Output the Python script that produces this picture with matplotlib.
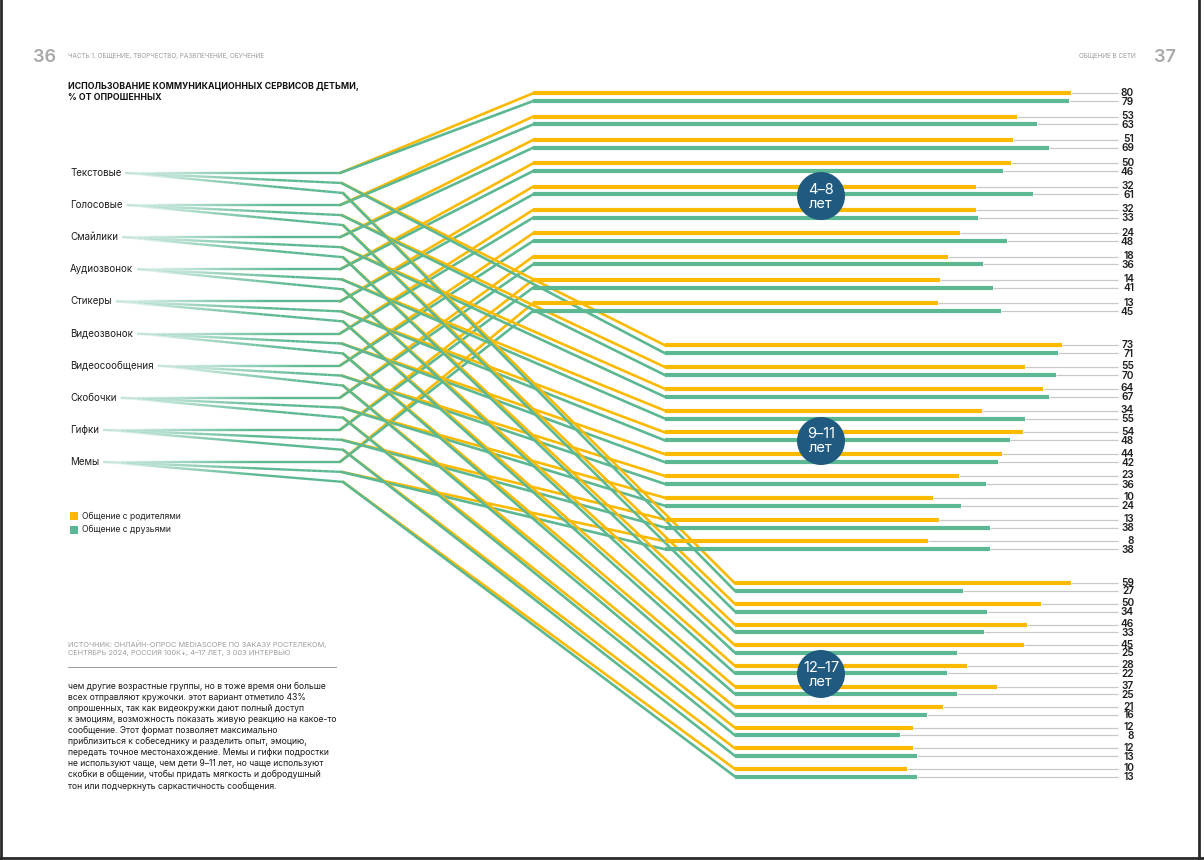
import matplotlib
matplotlib.use("Agg")
import matplotlib.pyplot as plt
from matplotlib.collections import LineCollection
from matplotlib.patches import Circle, Rectangle
import numpy as np

plt.rcParams['font.family'] = ['Inter', 'DejaVu Sans']

# ---------------- data ----------------
categories = ["Текстовые", "Голосовые", "Смайлики", "Аудиозвонок", "Стикеры",
              "Видеозвонок", "Видеосообщения", "Скобочки", "Гифки", "Мемы"]
age_groups = ["4–8\nлет", "9–11\nлет", "12–17\nлет"]
parents_4_8 = [80, 53, 51, 50, 32, 32, 24, 18, 14, 13]
friends_4_8 = [79, 63, 69, 46, 61, 33, 48, 36, 41, 45]
parents_9_11 = [73, 55, 64, 34, 54, 44, 23, 10, 13, 8]
friends_9_11 = [71, 70, 67, 55, 48, 42, 36, 24, 38, 38]
parents_12_17 = [59, 50, 46, 45, 28, 37, 21, 12, 12, 10]
friends_12_17 = [27, 34, 33, 25, 22, 25, 16, 8, 13, 13]
legend_labels = ["Общение с родителями", "Общение с друзьями"]

title = "ИСПОЛЬЗОВАНИЕ КОММУНИКАЦИОННЫХ СЕРВИСОВ ДЕТЬМИ,\n% ОТ ОПРОШЕННЫХ"
header_left = "ЧАСТЬ 1. ОБЩЕНИЕ, ТВОРЧЕСТВО, РАЗВЛЕЧЕНИЕ, ОБУЧЕНИЕ"
header_right = "ОБЩЕНИЕ В СЕТИ"
source = ("ИСТОЧНИК: ОНЛАЙН-ОПРОС MEDIASCOPE ПО ЗАКАЗУ РОСТЕЛЕКОМ,\n"
          "СЕНТЯБРЬ 2024, РОССИЯ 100К+, 4–17 ЛЕТ, 3 003 ИНТЕРВЬЮ")
body_lines = [
    "чем другие возрастные группы, но в тоже время они больше",
    "всех отправляют кружочки. этот вариант отметило 43%",
    "опрошенных, так как видеокружки дают полный доступ",
    "к эмоциям, возможность показать живую реакцию на какое-то",
    "сообщение. Этот формат позволяет максимально",
    "приблизиться к собеседнику и разделить опыт, эмоцию,",
    "передать точное местонахождение. Мемы и гифки подростки",
    "не используют чаще, чем дети 9–11 лет, но чаще используют",
    "скобки в общении, чтобы придать мягкость и добродушный",
    "тон или подчеркнуть саркастичность сообщения.",
]

# ---------------- style / layout ----------------
YEL = "#FBBA00"
GRN = "#5BB892"
GRAY_LINE = "#C9C9C9"
CIRC = "#215A80"
W, H = 1204, 860

groups = [
    dict(par=parents_4_8, fr=friends_4_8, top=93.3, pitch=23.33, gap=7.8,
         knee=533, zero=912, scale=1.985, cy=196),
    dict(par=parents_9_11, fr=friends_9_11, top=345.3, pitch=21.78, gap=8.0,
         knee=665, zero=912, scale=2.05, cy=441),
    dict(par=parents_12_17, fr=friends_12_17, top=583.4, pitch=20.63, gap=7.5,
         knee=735, zero=873, scale=3.35, cy=674),
]
label_x = 70
label_y0, label_step = 173, 32.1
left_knee_x = 340
line_end_x = 1118
num_x = 1134

fig = plt.figure(figsize=(W / 100, H / 100), dpi=100)
fig.patch.set_facecolor("white")
ax = fig.add_axes([0, 0, 1, 1])
ax.set_xlim(0, W)
ax.set_ylim(H, 0)
ax.axis("off")

# ---------------- texts ----------------
ax.text(33, 57, "36", fontsize=13, fontweight="semibold", color="#A8A8A8", va="center")
ax.text(68, 56, header_left, fontsize=4.6, color="#9A9A9A", va="center")
ax.text(1136, 56, header_right, fontsize=4.6, color="#9A9A9A", va="center", ha="right")
ax.text(1154, 57, "37", fontsize=13, fontweight="semibold", color="#A8A8A8", va="center")
ax.text(68, 92, title, fontsize=6.3, fontweight="bold", color="#111111",
        va="center", linespacing=1.35)

label_texts = []
for i, c in enumerate(categories):
    t = ax.text(label_x, label_y0 + i * label_step, c, fontsize=7, color="#1E1E1E",
                va="center")
    label_texts.append(t)

# legend
for k, (lab, col) in enumerate(zip(legend_labels, [YEL, GRN])):
    y = 516 + k * 13.5
    ax.add_patch(Rectangle((70, y - 4), 8, 8, color=col, lw=0))
    ax.text(82, y, lab, fontsize=6.2, color="#222222", va="center")

ax.text(68, 648, source, fontsize=5.3, color="#9C9C9C", va="center", linespacing=1.35)
ax.plot([68, 336], [667, 667], color="#9A9A9A", lw=0.7)
for k, ln in enumerate(body_lines):
    ax.text(68, 686 + k * 11.1, ln, fontsize=6.2, color="#1A1A1A", va="center")

# text end positions for the fading lead lines
fig.canvas.draw()
inv = ax.transData.inverted()
label_ends = [inv.transform((t.get_window_extent().x1, 0))[0] for t in label_texts]

# ---------------- lead lines (fading) ----------------
def fade_line(x0, y0, x1, y1, color, lw, n=40):
    xs = np.linspace(x0, x1, n + 1)
    ys = np.linspace(y0, y1, n + 1)
    segs = [[(xs[j], ys[j]), (xs[j + 1], ys[j + 1])] for j in range(n)]
    frac = (xs[:-1] - x0) / 150.0
    alphas = np.clip(frac, 0.08, 1.0) ** 0.8
    rgba = np.array([matplotlib.colors.to_rgba(color, a) for a in alphas])
    lc = LineCollection(segs, colors=rgba, linewidths=lw, capstyle="butt")
    ax.add_collection(lc)

for i in range(len(categories)):
    ly = label_y0 + i * label_step
    for g in range(3):
        kx = left_knee_x + 1.5 * g
        ky = ly + 10 * g
        fade_line(label_ends[i] + 4, ly, kx, ky, GRN, 1.7)

# ---------------- diagonals ----------------
for g, G in enumerate(groups):
    for i in range(len(categories)):
        ly = label_y0 + i * label_step
        kx = left_knee_x + 1.5 * g
        ky = ly + 10 * g
        yy = G["top"] + i * G["pitch"]
        yg = yy + G["gap"]
        ax.plot([kx, G["knee"]], [ky, yy], color=YEL, lw=1.9, solid_capstyle="round")
        ax.plot([kx, G["knee"]], [ky, yg], color=GRN, lw=1.9, solid_capstyle="round")

# ---------------- bars (value axes per age group) ----------------
for g, G in enumerate(groups):
    z, s = G["zero"], G["scale"]
    gax = fig.add_axes([0, 0, 1, 1])
    gax.set_xlim((0 - z) / s, (W - z) / s)
    gax.set_ylim(H, 0)
    gax.axis("off")
    gax.patch.set_alpha(0)
    start_v = (G["knee"] - z) / s
    end_v = (line_end_x - z) / s
    num_v = (num_x - z) / s
    ys_y = [G["top"] + i * G["pitch"] for i in range(len(categories))]
    ys_g = [y + G["gap"] for y in ys_y]
    gax.hlines(ys_y, G["par"], end_v, color=GRAY_LINE, lw=0.9)
    gax.hlines(ys_g, G["fr"], end_v, color=GRAY_LINE, lw=0.9)
    gax.hlines(ys_y, start_v, G["par"], color=YEL, lw=3.0, capstyle="butt")
    gax.hlines(ys_g, start_v, G["fr"], color=GRN, lw=3.0, capstyle="butt")
    for y, v in zip(ys_y, G["par"]):
        gax.text(num_v, y - 0.6, str(v), ha="right", va="center", fontsize=7.3,
                 fontweight="semibold", color="#1E1E1E")
    for y, v in zip(ys_g, G["fr"]):
        gax.text(num_v, y + 0.6, str(v), ha="right", va="center", fontsize=7.3,
                 fontweight="semibold", color="#1E1E1E")

# ---------------- age circles ----------------
top = fig.add_axes([0, 0, 1, 1])
top.set_xlim(0, W)
top.set_ylim(H, 0)
top.axis("off")
top.patch.set_alpha(0)
for g, G in enumerate(groups):
    top.add_patch(Circle((821, G["cy"]), 24, color=CIRC, lw=0))
    top.text(821, G["cy"] + 0.5, age_groups[g], ha="center", va="center",
             fontsize=10.5, color="white", linespacing=1.0)

# page frame
top.plot([1, 1], [0, H], color="#2A2A2A", lw=2)
top.plot([1199, 1199], [0, H], color="#2A2A2A", lw=2)
top.plot([0, W], [858, 858], color="#2A2A2A", lw=2)

fig.savefig("out.png", dpi=100, facecolor="white")
